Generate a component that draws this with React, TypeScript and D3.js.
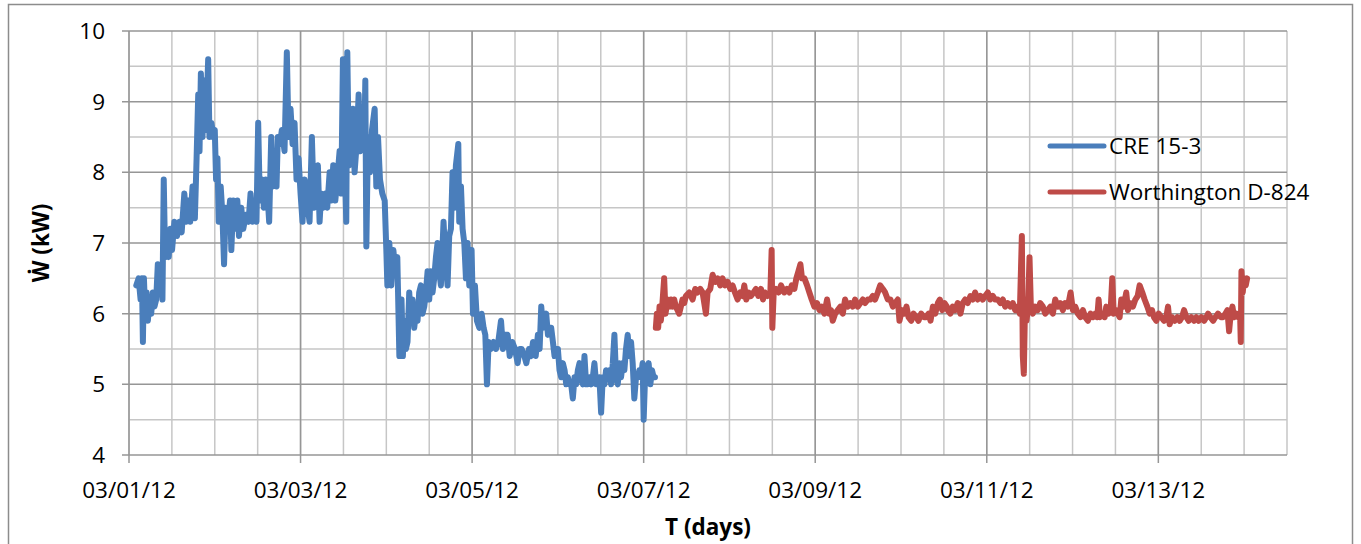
import React, { useRef, useEffect } from "react";
import * as d3 from "d3";

// days since 03/01/12 00:00 and power in kW
const creDay = [
  0.085, 0.112, 0.135, 0.151, 0.162, 0.174, 0.189, 0.205, 0.22, 0.239, 0.259, 0.278, 0.297, 0.317, 0.336, 0.355,
  0.375, 0.39, 0.405, 0.421, 0.444, 0.463, 0.483, 0.502, 0.529, 0.56, 0.587, 0.614, 0.645, 0.668, 0.691, 0.714,
  0.741, 0.768, 0.788, 0.807, 0.822, 0.838, 0.857, 0.876, 0.896, 0.923, 0.938, 0.961, 0.985, 1.0, 1.015, 1.031,
  1.046, 1.069, 1.089, 1.108, 1.127, 1.154, 1.178, 1.193, 1.216, 1.239, 1.263, 1.282, 1.309, 1.332, 1.363, 1.394,
  1.417, 1.44, 1.471, 1.486, 1.506, 1.525, 1.552, 1.572, 1.595, 1.619, 1.634, 1.658, 1.673, 1.697, 1.72, 1.735,
  1.759, 1.782, 1.813, 1.84, 1.86, 1.883, 1.907, 1.93, 1.953, 1.977, 2.0, 2.023, 2.047, 2.074, 2.105, 2.132,
  2.156, 2.179, 2.202, 2.222, 2.241, 2.265, 2.288, 2.311, 2.339, 2.358, 2.381, 2.405, 2.428, 2.455, 2.475, 2.494,
  2.514, 2.533, 2.545, 2.564, 2.584, 2.611, 2.63, 2.654, 2.677, 2.696, 2.72, 2.743, 2.755, 2.767, 2.786, 2.809,
  2.833, 2.864, 2.883, 2.903, 2.926, 2.953, 2.981, 3.0, 3.012, 3.035, 3.058, 3.082, 3.105, 3.128, 3.152, 3.177,
  3.193, 3.208, 3.228, 3.247, 3.267, 3.286, 3.305, 3.325, 3.344, 3.364, 3.383, 3.403, 3.422, 3.442, 3.461, 3.481,
  3.5, 3.519, 3.539, 3.558, 3.578, 3.597, 3.617, 3.636, 3.667, 3.687, 3.714, 3.733, 3.753, 3.772, 3.792, 3.811,
  3.839, 3.85, 3.87, 3.889, 3.909, 3.928, 3.947, 3.967, 3.994, 4.01, 4.033, 4.056, 4.084, 4.111, 4.134, 4.154,
  4.173, 4.193, 4.22, 4.251, 4.278, 4.305, 4.337, 4.36, 4.383, 4.414, 4.438, 4.469, 4.5, 4.531, 4.554, 4.578,
  4.609, 4.632, 4.663, 4.687, 4.71, 4.741, 4.767, 4.787, 4.806, 4.826, 4.845, 4.864, 4.884, 4.903, 4.922, 4.942,
  4.961, 4.981, 5.0, 5.019, 5.039, 5.058, 5.078, 5.097, 5.116, 5.136, 5.155, 5.174, 5.194, 5.213, 5.233, 5.252,
  5.271, 5.291, 5.31, 5.329, 5.349, 5.368, 5.388, 5.407, 5.426, 5.446, 5.465, 5.484, 5.504, 5.523, 5.543, 5.562,
  5.581, 5.601, 5.62, 5.64, 5.659, 5.678, 5.698, 5.717, 5.736, 5.756, 5.775, 5.794, 5.814, 5.833, 5.853, 5.872,
  5.891, 5.911, 5.93, 5.95, 5.969, 5.988, 6.0, 6.019, 6.039, 6.058, 6.078, 6.097, 6.116, 6.132,
];
const creKw = [
  6.4, 6.5, 6.2, 6.5, 5.6, 6.5, 6.0, 6.3, 5.9, 6.2, 6.0, 6.3, 6.1, 6.2, 6.7, 6.3,
  6.6, 6.2, 7.9, 6.8, 7.1, 6.8, 7.2, 6.9, 7.3, 7.1, 7.3, 7.15, 7.7, 7.3, 7.6, 7.3,
  7.8, 7.35, 8.2, 9.1, 8.3, 9.4, 8.5, 9.3, 8.6, 9.6, 8.5, 8.7, 8.5, 8.6, 7.9, 8.2,
  7.3, 7.8, 7.4, 6.7, 7.5, 7.3, 7.6, 6.9, 7.6, 7.2, 7.6, 7.1, 7.5, 7.2, 7.4, 7.3,
  7.7, 7.3, 7.4, 7.3, 8.7, 7.6, 7.9, 7.5, 7.9, 7.6, 7.3, 8.5, 7.8, 8.2, 7.8, 8.5,
  8.4, 8.6, 8.3, 9.7, 8.5, 8.9, 8.4, 8.7, 7.9, 8.2, 7.7, 7.3, 7.9, 7.6, 7.3, 8.5,
  7.5, 7.9, 8.1, 7.3, 7.7, 7.5, 7.7, 7.5, 8.0, 7.6, 8.1, 7.6, 7.9, 8.3, 7.7, 9.6,
  8.2, 7.3, 9.7, 8.1, 8.6, 8.9, 8.0, 8.4, 9.1, 8.3, 8.9, 8.4, 9.3, 6.95, 8.5, 8.0,
  8.6, 8.9, 7.8, 8.5, 7.9, 7.7, 7.6, 6.9, 6.4, 7.0, 6.4, 6.9, 6.6, 6.8, 5.4, 6.2,
  5.4, 5.9, 5.5, 5.6, 6.3, 5.9, 6.2, 5.8, 6.0, 5.9, 6.3, 6.4, 6.0, 6.1, 6.3, 6.6,
  6.2, 6.6, 6.3, 6.5, 6.8, 7.0, 6.6, 6.4, 7.3, 6.8, 6.4, 7.1, 7.2, 8.0, 7.5, 8.1,
  8.4, 7.3, 7.8, 7.2, 7.0, 6.5, 7.0, 6.4, 6.9, 6.0, 6.4, 5.9, 5.8, 6.0, 5.8, 5.7,
  5.0, 5.6, 5.5, 5.6, 5.5, 5.6, 5.9, 5.5, 5.7, 5.7, 5.4, 5.6, 5.5, 5.3, 5.5, 5.5,
  5.4, 5.3, 5.5, 5.4, 5.6, 5.4, 5.7, 5.5, 6.1, 5.8, 5.9, 6.0, 5.7, 5.8, 5.8, 5.6,
  5.4, 5.5, 5.5, 5.2, 5.1, 5.3, 5.2, 5.0, 5.1, 5.0, 5.0, 4.8, 5.1, 5.0, 5.2, 5.3,
  5.1, 5.0, 5.4, 5.0, 5.0, 5.1, 5.0, 5.1, 5.3, 5.0, 5.0, 5.1, 4.6, 5.1, 5.0, 5.2,
  5.1, 5.2, 5.0, 5.3, 5.7, 5.1, 5.0, 5.3, 5.1, 5.3, 5.2, 5.5, 5.7, 5.4, 5.6, 5.3,
  4.8, 5.1, 5.1, 5.2, 5.1, 5.3, 4.5, 5.2, 5.1, 5.3, 5.0, 5.2, 5.1, 5.1,
];

const worDay = [
  6.142, 6.154, 6.169, 6.185, 6.2, 6.216, 6.239, 6.255, 6.278, 6.298, 6.317, 6.337, 6.356, 6.375, 6.395, 6.414,
  6.434, 6.453, 6.473, 6.492, 6.531, 6.57, 6.601, 6.628, 6.66, 6.687, 6.726, 6.745, 6.776, 6.804, 6.835, 6.862,
  6.893, 6.92, 6.947, 6.979, 7.01, 7.037, 7.064, 7.095, 7.126, 7.154, 7.173, 7.196, 7.224, 7.251, 7.282, 7.309,
  7.337, 7.368, 7.391, 7.414, 7.446, 7.477, 7.492, 7.5, 7.516, 7.543, 7.574, 7.601, 7.64, 7.671, 7.698, 7.726,
  7.757, 7.78, 7.804, 7.827, 7.846, 7.874, 7.905, 7.932, 7.959, 7.99, 8.021, 8.049, 8.076, 8.107, 8.138, 8.165,
  8.185, 8.204, 8.232, 8.263, 8.294, 8.321, 8.348, 8.379, 8.411, 8.438, 8.465, 8.496, 8.527, 8.554, 8.582, 8.613,
  8.644, 8.671, 8.698, 8.729, 8.757, 8.788, 8.815, 8.846, 8.877, 8.905, 8.932, 8.963, 8.982, 9.01, 9.041, 9.064,
  9.088, 9.119, 9.146, 9.177, 9.204, 9.235, 9.267, 9.294, 9.321, 9.344, 9.372, 9.399, 9.43, 9.453, 9.481, 9.508,
  9.535, 9.545, 9.576, 9.603, 9.63, 9.661, 9.693, 9.72, 9.747, 9.778, 9.809, 9.837, 9.864, 9.895, 9.926, 9.953,
  9.981, 10.012, 10.039, 10.07, 10.097, 10.128, 10.16, 10.187, 10.214, 10.245, 10.276, 10.304, 10.331, 10.362, 10.385, 10.409,
  10.42, 10.432, 10.447, 10.463, 10.482, 10.498, 10.514, 10.537, 10.564, 10.595, 10.623, 10.654, 10.681, 10.712, 10.743, 10.77,
  10.798, 10.829, 10.856, 10.887, 10.914, 10.946, 10.977, 11.004, 11.031, 11.062, 11.093, 11.121, 11.148, 11.179, 11.21, 11.237,
  11.265, 11.288, 11.304, 11.319, 11.346, 11.374, 11.393, 11.42, 11.444, 11.463, 11.479, 11.506, 11.529, 11.549, 11.568, 11.595,
  11.626, 11.646, 11.673, 11.704, 11.732, 11.759, 11.782, 11.813, 11.84, 11.872, 11.899, 11.926, 11.949, 11.977, 12.004, 12.035,
  12.066, 12.093, 12.113, 12.132, 12.16, 12.191, 12.222, 12.249, 12.276, 12.3, 12.327, 12.354, 12.385, 12.416, 12.444, 12.471,
  12.502, 12.533, 12.56, 12.58, 12.607, 12.638, 12.665, 12.696, 12.728, 12.755, 12.782, 12.805, 12.825, 12.844, 12.864, 12.883,
  12.911, 12.934, 12.953, 12.961, 12.969, 12.984, 13.0, 13.019, 13.035,
];
const worKw = [
  5.8, 6.0, 5.8, 6.1, 5.9, 6.1, 6.5, 6.0, 6.2, 6.1, 6.2, 6.1, 6.2, 6.1, 6.05, 6.0,
  6.1, 6.2, 6.15, 6.25, 6.3, 6.2, 6.35, 6.3, 6.35, 6.3, 6.0, 6.3, 6.35, 6.55, 6.45, 6.5,
  6.4, 6.5, 6.4, 6.45, 6.35, 6.4, 6.3, 6.2, 6.3, 6.25, 6.4, 6.2, 6.3, 6.25, 6.3, 6.35,
  6.25, 6.35, 6.2, 6.3, 6.25, 6.3, 6.9, 5.8, 6.3, 6.35, 6.3, 6.4, 6.3, 6.35, 6.3, 6.4,
  6.35, 6.5, 6.6, 6.7, 6.5, 6.5, 6.4, 6.3, 6.2, 6.1, 6.15, 6.05, 6.1, 6.0, 6.2, 6.0,
  6.05, 5.9, 6.0, 6.05, 6.1, 6.0, 6.2, 6.1, 6.15, 6.1, 6.2, 6.1, 6.15, 6.2, 6.15, 6.2,
  6.2, 6.25, 6.2, 6.3, 6.4, 6.35, 6.3, 6.2, 6.2, 6.1, 6.15, 6.2, 5.9, 6.05, 6.0, 6.1,
  5.95, 5.9, 6.0, 5.95, 5.9, 6.0, 5.95, 5.95, 6.0, 5.9, 6.1, 6.0, 6.15, 6.2, 6.05, 6.15,
  6.1, 6.05, 6.0, 6.1, 6.05, 6.15, 6.0, 6.15, 6.2, 6.15, 6.25, 6.2, 6.3, 6.2, 6.25, 6.2,
  6.25, 6.3, 6.2, 6.25, 6.2, 6.2, 6.15, 6.2, 6.1, 6.15, 6.1, 6.15, 6.05, 6.1, 6.0, 7.1,
  5.4, 5.15, 6.2, 5.9, 6.1, 6.8, 6.1, 6.0, 6.1, 6.05, 6.15, 6.1, 6.0, 6.05, 6.1, 6.0,
  6.2, 6.1, 6.15, 6.05, 6.15, 6.1, 6.3, 6.05, 6.1, 6.0, 5.95, 6.05, 5.95, 5.9, 6.0, 5.95,
  6.0, 5.95, 6.2, 5.95, 6.0, 5.95, 6.1, 6.0, 6.05, 6.5, 6.0, 6.05, 6.0, 5.95, 6.2, 6.1,
  6.3, 6.05, 6.15, 6.1, 6.2, 6.25, 6.4, 6.3, 6.2, 6.1, 6.0, 6.05, 5.95, 5.9, 6.0, 5.95,
  5.9, 5.95, 6.1, 5.85, 5.95, 5.9, 5.95, 5.9, 5.95, 6.05, 5.95, 5.9, 5.95, 5.9, 5.95, 5.9,
  5.95, 5.9, 5.95, 6.0, 5.95, 5.9, 5.95, 6.0, 5.95, 5.95, 6.0, 6.05, 5.75, 6.0, 6.1, 5.95,
  6.0, 5.95, 6.0, 5.6, 6.6, 6.3, 6.5, 6.4, 6.5,
];

const seriesNames = ["CRE 15-3", "Worthington D-824"];
const seriesColors = ["#4a7ebb", "#be4b48"];
const yTicks = [4, 5, 6, 7, 8, 9, 10];

const start = new Date(2012, 2, 1);
const toDate = (d) => new Date(start.getTime() + d * 864e5);

const W = 1361;
const H = 544;

export default function App() {
  const svgRef = useRef(null);

  useEffect(() => {
    const svg = d3.select(svgRef.current);
    svg.selectAll("*").remove();

    const margin = { top: 31, right: 74, bottom: 89, left: 129 };
    const innerWidth = W - margin.left - margin.right;
    const innerHeight = H - margin.top - margin.bottom;
    const font = "'Open Sans', sans-serif";
    const fs = "22.5px";

    // chart border
    svg
      .append("rect")
      .attr("x", 8.5)
      .attr("y", 4.5)
      .attr("width", 1344)
      .attr("height", 600)
      .attr("fill", "#fff")
      .attr("stroke", "#8c8c8c")
      .attr("stroke-width", 1.5);

    const g = svg.append("g").attr("transform", `translate(${margin.left},${margin.top})`);

    const x = d3
      .scaleTime()
      .domain([start, toDate(13.5)])
      .range([0, innerWidth]);
    const y = d3.scaleLinear().domain([4, 10]).range([innerHeight, 0]);

    // minor grid
    const minorX = d3.timeHour.every(12).range(start, toDate(13.51));
    g.selectAll(".vminor")
      .data(minorX)
      .enter()
      .append("line")
      .attr("x1", (d) => x(d))
      .attr("x2", (d) => x(d))
      .attr("y1", 0)
      .attr("y2", innerHeight)
      .attr("stroke", "#c6c6c6")
      .attr("stroke-width", 1.5);
    g.selectAll(".hminor")
      .data(d3.range(4.5, 10, 1))
      .enter()
      .append("line")
      .attr("x1", 0)
      .attr("x2", innerWidth)
      .attr("y1", (d) => y(d))
      .attr("y2", (d) => y(d))
      .attr("stroke", "#c6c6c6")
      .attr("stroke-width", 1.5);

    // major grid
    const majorX = d3.timeDay.every(2).range(start, toDate(13.5));
    g.selectAll(".vmajor")
      .data(majorX)
      .enter()
      .append("line")
      .attr("x1", (d) => x(d))
      .attr("x2", (d) => x(d))
      .attr("y1", 0)
      .attr("y2", innerHeight + 8)
      .attr("stroke", "#969696")
      .attr("stroke-width", 1.5);
    g.selectAll(".hmajor")
      .data(yTicks)
      .enter()
      .append("line")
      .attr("x1", -7)
      .attr("x2", innerWidth)
      .attr("y1", (d) => y(d))
      .attr("y2", (d) => y(d))
      .attr("stroke", "#969696")
      .attr("stroke-width", 1.5);

    // axis labels
    g.selectAll(".ylab")
      .data(yTicks)
      .enter()
      .append("text")
      .attr("x", -24)
      .attr("y", (d) => y(d) + 8)
      .attr("text-anchor", "end")
      .attr("font-family", font)
      .attr("font-size", fs)
      .attr("fill", "#000")
      .text((d) => d);

    const fmt = d3.timeFormat("%m/%d/%y");
    g.selectAll(".xlab")
      .data(majorX)
      .enter()
      .append("text")
      .attr("x", (d) => x(d))
      .attr("y", innerHeight + 43)
      .attr("text-anchor", "middle")
      .attr("font-family", font)
      .attr("font-size", fs)
      .attr("fill", "#000")
      .text((d) => fmt(d));

    // series
    const line = d3
      .line()
      .x((d) => x(toDate(d[0])))
      .y((d) => y(d[1]));

    const series = [
      d3.zip(creDay, creKw),
      d3.zip(worDay, worKw),
    ];

    series.forEach((data, i) => {
      g.append("path")
        .datum(data)
        .attr("fill", "none")
        .attr("stroke", seriesColors[i])
        .attr("stroke-width", 6)
        .attr("stroke-linejoin", "round")
        .attr("stroke-linecap", "round")
        .attr("d", line);
    });

    // legend
    const legend = svg.append("g").attr("transform", "translate(1050,146)");
    seriesNames.forEach((name, i) => {
      legend
        .append("line")
        .attr("x1", 0)
        .attr("x2", 54)
        .attr("y1", i * 46)
        .attr("y2", i * 46)
        .attr("stroke", seriesColors[i])
        .attr("stroke-width", 5)
        .attr("stroke-linecap", "round");
      legend
        .append("text")
        .attr("x", 59)
        .attr("y", i * 46 + 8)
        .attr("font-family", font)
        .attr("font-size", fs)
        .attr("fill", "#000")
        .text(name);
    });

    // titles
    svg
      .append("text")
      .attr("transform", `translate(49,${margin.top + innerHeight / 2}) rotate(-90)`)
      .attr("text-anchor", "middle")
      .attr("font-family", font)
      .attr("font-size", fs)
      .attr("font-weight", "bold")
      .text("W\u0307 (kW)");

    svg
      .append("text")
      .attr("x", 708)
      .attr("y", 535)
      .attr("text-anchor", "middle")
      .attr("font-family", font)
      .attr("font-size", fs)
      .attr("font-weight", "bold")
      .text("T (days)");
  }, []);

  return (
    <svg
      ref={svgRef}
      width={W}
      height={H}
      style={{ position: "absolute", left: 0, top: 0, display: "block" }}
    />
  );
}
